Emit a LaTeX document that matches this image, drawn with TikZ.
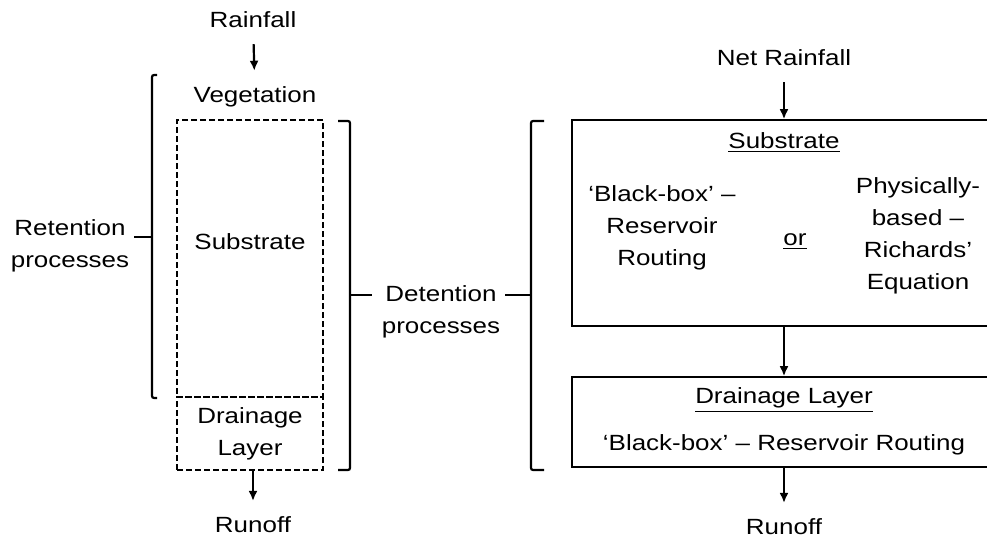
\documentclass[tikz,border=0pt]{standalone}
\usepackage{fontspec}
\setmainfont{Liberation Sans}[FakeStretch=1.18]
\usetikzlibrary{arrows.meta,positioning}
\begin{document}
\begin{tikzpicture}[x=0.5pt, y=-0.5pt, font=\fontsize{11}{16}\selectfont,
		flow/.style={-{Latex[length=5pt,width=4.5pt]}, line width=1.1pt},
		brace/.style={line width=1.1pt, rounded corners=1pt},
		txt/.style={align=center, inner sep=0pt, outer sep=8pt},
		lbl/.style={align=center, inner sep=0pt},
		layerbox/.style={draw, line width=1.1pt, dash pattern=on 3pt off 1.5pt, inner sep=0pt, minimum width=73pt, align=center},
		modelbox/.style={draw, line width=0.8pt, inner sep=0pt, minimum width=208pt}]
		\useasboundingbox (0,0) rectangle (987,542);
		\node[txt](rainL) at (253,20){Rainfall};
		\node[txt](veg) at (255,97){Vegetation};
		\node[layerbox, minimum height=138.5pt](subL) at (250,258.5){};
		\node[lbl](subLtxt) at (250,242){Substrate};
		\node[layerbox, minimum height=36.5pt](drL) at (250,433.5){Drainage\\Layer};
		\node[txt](runL) at (253,525){Runoff};
		\draw[flow](rainL) to (veg);
		\draw[flow](drL.south -| runL) to (runL);
		\node[lbl](ret) at (70,246){Retention\\processes};
		\coordinate(retT) at (152,75);
		\coordinate(retB) at (152,398);
		\coordinate(retM) at (152,237);
		\draw[brace](retT) ++(5,0) -- (retT) -- (retB) -- ++(5,0);
		\draw[brace](retM) -- ++(-18,0);
		\node[lbl](det) at (441,311.5){Detention\\processes};
		\coordinate(detT) at (350,121);
		\coordinate(detB) at (350,470);
		\coordinate(detM) at (350,295);
		\draw[brace](detT) ++(-12,0) -- (detT) -- (detB) -- ++(-12,0);
		\draw[brace](detM) -- ++(22,0);
		\coordinate(modT) at (531,121);
		\coordinate(modB) at (531,470);
		\coordinate(modM) at (531,295);
		\draw[brace](modT) ++(13,0) -- (modT) -- (modB) -- ++(13,0);
		\draw[brace](modM) -- ++(-26,0);
		\node[txt](net) at (784,58){Net Rainfall};
		\node[modelbox, minimum height=103pt](subM) at (780,223){};
		\node[lbl](subMtxt) at (784,143){\underline{Substrate}};
		\node[lbl](bbox) at (662,227.5){‘Black-box’ –\\Reservoir\\Routing};
		\node[lbl](or) at (795,242){\underline{or}};
		\node[lbl](phys) at (918,236){Physically-\\based –\\Richards’\\Equation};
		\node[modelbox, minimum height=45pt](drM) at (780,422){};
		\node[lbl](drMtxt) at (784,400){\underline{Drainage Layer}};
		\node[lbl](drMsub) at (784,445){‘Black-box’ – Reservoir Routing};
		\node[txt](runR) at (784,527){Runoff};
		\draw[flow](net) to (net |- subM.north);
		\draw[flow](subM.south -| net) to (drM.north -| net);
		\draw[flow](drM.south -| net) to (runR);
	\end{tikzpicture}
\end{document}
